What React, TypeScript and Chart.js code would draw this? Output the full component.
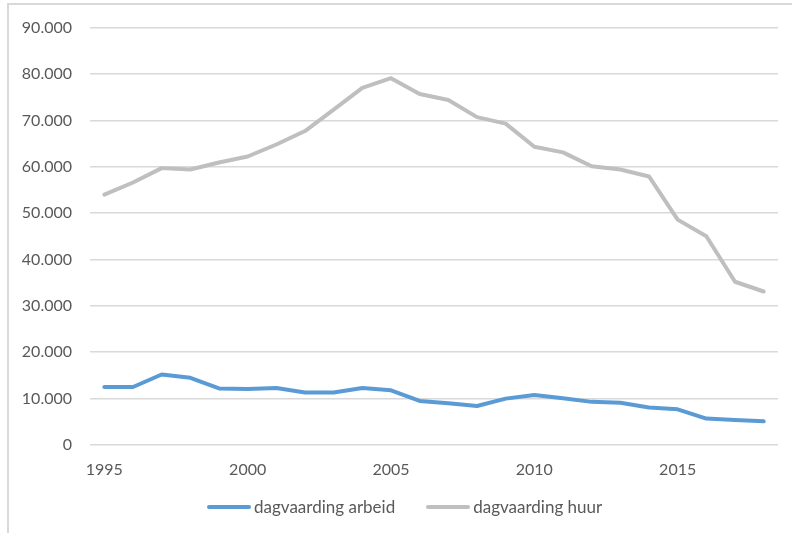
import React, { useEffect, useRef } from "react";
import { Chart, registerables } from "chart.js";

Chart.register(...registerables);

// Jaren op de x-as
const years = [
  "1995", "1996", "1997", "1998", "1999", "2000", "2001", "2002", "2003", "2004", "2005", "2006",
  "2007", "2008", "2009", "2010", "2011", "2012", "2013", "2014", "2015", "2016", "2017", "2018",
];

// Aantal dagvaardingen per jaar
const arbeid = [
  12500, 12500, 15200, 14500, 12200, 12100, 12300, 11300, 11300, 12300, 11800, 9500,
  9000, 8400, 10000, 10800, 10100, 9300, 9100, 8100, 7700, 5700, 5400, 5100,
];
const huur = [
  54000, 56600, 59700, 59400, 60900, 62200, 64800, 67700, 72300, 77000, 79100, 75700,
  74400, 70700, 69300, 64300, 63100, 60100, 59400, 57900, 48600, 45000, 35200, 33100,
];

const seriesNames = ["dagvaarding arbeid", "dagvaarding huur"];
const seriesColors = ["#5B9BD5", "#BFBFBF"];

const yMax = 90000;
const yStep = 10000;

const FONT = "Lato, 'Open Sans', sans-serif";
const TEXT = "#595959";

function formatNl(v: number): string {
  return String(Math.round(v)).replace(/\B(?=(\d{3})+(?!\d))/g, ".");
}

export default function App() {
  const canvasRef = useRef<HTMLCanvasElement | null>(null);

  useEffect(() => {
    const canvas = canvasRef.current;
    if (!canvas) return;
    const chart = new Chart(canvas, {
      type: "line",
      data: {
        labels: years,
        datasets: [
          {
            label: seriesNames[0],
            data: arbeid,
            borderColor: seriesColors[0],
            backgroundColor: seriesColors[0],
            borderWidth: 4,
            pointRadius: 0,
            tension: 0,
            borderCapStyle: "round",
            borderJoinStyle: "round",
          },
          {
            label: seriesNames[1],
            data: huur,
            borderColor: seriesColors[1],
            backgroundColor: seriesColors[1],
            borderWidth: 4,
            pointRadius: 0,
            tension: 0,
            borderCapStyle: "round",
            borderJoinStyle: "round",
          },
        ],
      },
      options: {
        animation: false,
        responsive: false,
        maintainAspectRatio: false,
        layout: { padding: { left: 0, top: 24, right: 14, bottom: 48 } },
        plugins: {
          legend: { display: false },
          tooltip: { enabled: false },
        },
        scales: {
          x: {
            type: "category",
            offset: true,
            grid: { display: false, drawTicks: false },
            border: { display: false },
            ticks: {
              autoSkip: false,
              maxRotation: 0,
              padding: 15,
              color: TEXT,
              font: { family: FONT, size: 16 },
              callback: (_v: any, i: number) => (Number(years[i]) % 5 === 0 ? years[i] : ""),
            },
            afterFit: (s: any) => {
              s.height = 40;
            },
          },
          y: {
            min: 0,
            max: yMax,
            grid: { color: "#D9D9D9", lineWidth: 1.6, drawTicks: false },
            border: { display: false },
            ticks: {
              stepSize: yStep,
              padding: 18,
              color: TEXT,
              font: { family: FONT, size: 16 },
              callback: (v: any) => formatNl(Number(v)),
            },
            afterFit: (s: any) => {
              s.width = 90;
            },
          },
        },
      },
    });
    return () => chart.destroy();
  }, []);

  return (
    <div
      style={{
        position: "fixed",
        left: 0,
        top: 0,
        width: 792,
        height: 533,
        overflow: "hidden",
        background: "#fff",
      }}
    >
      <div
        style={{
          position: "absolute",
          left: 7,
          top: 3,
          width: 900,
          height: 700,
          borderTop: "2px solid #D9D9D9",
          borderLeft: "2px solid #D9D9D9",
        }}
      />
      <canvas
        ref={canvasRef}
        width={792}
        height={533}
        style={{ position: "absolute", left: 0, top: 0, width: 792, height: 533 }}
      />
      <div
        style={{
          position: "absolute",
          left: 207,
          top: 496,
          display: "flex",
          alignItems: "center",
          fontFamily: FONT,
          fontSize: 17,
          color: TEXT,
          whiteSpace: "nowrap",
        }}
      >
        {seriesNames.map((name, i) => (
          <div
            key={name}
            style={{ display: "flex", alignItems: "center", marginRight: i === 0 ? 31 : 0 }}
          >
            <span
              style={{
                display: "inline-block",
                width: 44,
                height: 4,
                borderRadius: 2,
                background: seriesColors[i],
                marginRight: 3,
              }}
            />
            <span>{name}</span>
          </div>
        ))}
      </div>
    </div>
  );
}
